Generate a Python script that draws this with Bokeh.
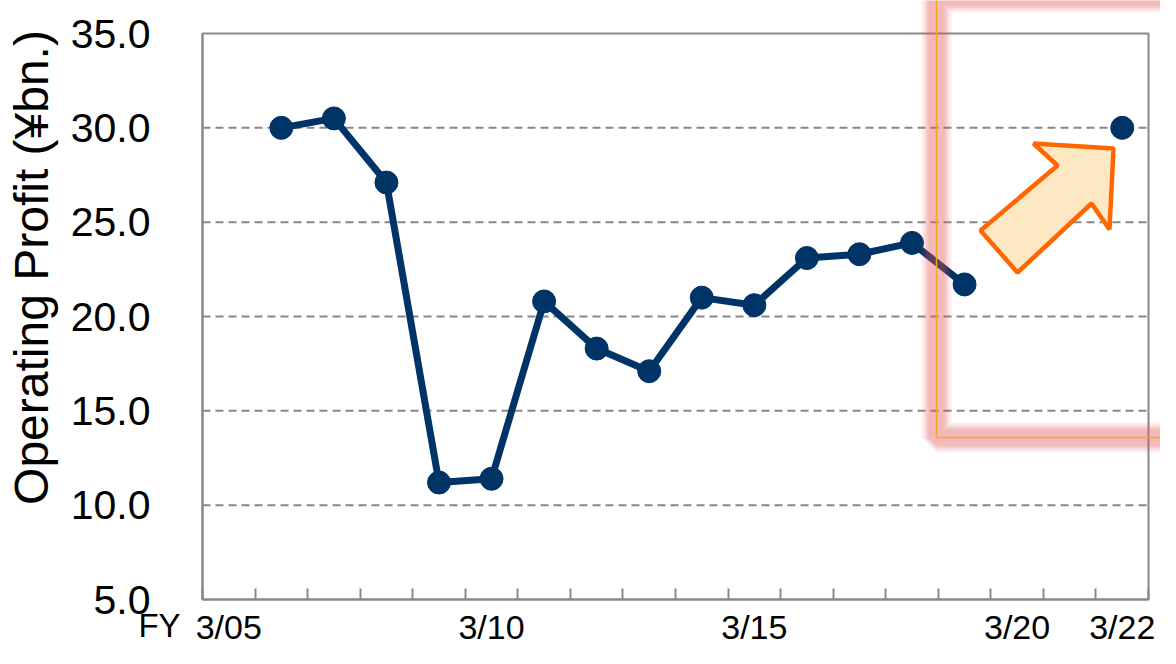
import math
from bokeh.plotting import figure
from bokeh.models import (Range1d, FixedTicker, NumeralTickFormatter, BoxAnnotation,
                          PolyAnnotation, ColumnDataSource)
from bokeh.core.properties import value
from bokeh.embed import file_html
from bokeh.resources import INLINE

# ---- data -------------------------------------------------------------
fiscal_years = ["3/05", "3/06", "3/07", "3/08", "3/09", "3/10", "3/11", "3/12", "3/13",
                "3/14", "3/15", "3/16", "3/17", "3/18", "3/19", "3/20", "3/21", "3/22"]
operating_profit = [math.nan, 30.0, 30.5, 27.1, 11.2, 11.4, 20.8, 18.3, 17.1,
                    21.0, 20.6, 23.1, 23.3, 23.9, 21.7, math.nan, math.nan, 30.0]
labelled_years = ["3/05", "3/10", "3/15", "3/20", "3/22"]
y_ticks = [5, 10, 15, 20, 25, 30, 35]
grid_ticks = [10, 15, 20, 25, 30]
y_title = "Operating Profit (\u00a5bn.)"
x_prefix = "FY"

# ---- layout constants (pixels on the canvas) ---------------------------
W, H = 1160, 648
PX_LEFT, PX_RIGHT, PX_TOP, PX_BOTTOM = 202, 1148, 33, 599
Y_MIN, Y_MAX = 5, 35
n = len(fiscal_years)
sx = (PX_RIGHT - PX_LEFT) / n            # px per category
sy = (PX_BOTTOM - PX_TOP) / (Y_MAX - Y_MIN)  # px per unit
x_range = Range1d(-PX_LEFT / sx, (W - PX_LEFT) / sx)
y_range = Range1d(Y_MIN - (H - PX_BOTTOM) / sy, Y_MAX + PX_TOP / sy)

def dx(px):
    return (px - PX_LEFT) / sx

def dy(py):
    return Y_MAX - (py - PX_TOP) / sy

# decorations (given in pixels, converted to data units)
box = dict(left=dx(936), right=dx(1182), bottom=dy(437), top=dy(-3))
arrow_px = [(980, 230), (1017, 272), (1091, 203), (1109, 229), (1113, 148), (1033, 143), (1057, 165)]

NAVY = "#003366"
GRAY = "#888888"
FONT = "Liberation Sans"

xpos = [i + 0.5 for i in range(n)]
src = ColumnDataSource(dict(x=xpos, y=operating_profit, fy=fiscal_years))

p = figure(width=W, height=H, output_backend="svg", toolbar_location=None,
           x_range=x_range, y_range=y_range, min_border=0,
           min_border_left=0, min_border_right=0, min_border_top=0, min_border_bottom=0)
p.background_fill_color = "white"
p.border_fill_color = "white"
p.outline_line_color = None
p.xgrid.visible = False
p.ygrid.visible = False

# gridlines (dashed) inside the plot area
p.segment(x0=[0] * len(grid_ticks), x1=[n] * len(grid_ticks), y0=grid_ticks, y1=grid_ticks,
          line_color=GRAY, line_width=2, line_dash="8 5")
# plot-area border
p.quad(left=[0], right=[n], bottom=[Y_MIN], top=[Y_MAX], fill_color=None,
       line_color=GRAY, line_width=2)

# x axis (fixed at y = 5)
xa = p.xaxis[0]
xa.fixed_location = Y_MIN
xa.bounds = (0, n)
major = [fiscal_years.index(l) + 0.5 for l in labelled_years]
xa.ticker = FixedTicker(ticks=major, minor_ticks=list(range(n + 1)))
xa.major_label_overrides = {float(m): l for m, l in zip(major, labelled_years)}
xa.major_tick_line_color = None
xa.major_tick_in = 0
xa.major_tick_out = 0
xa.minor_tick_in = 11
xa.minor_tick_out = 0
xa.minor_tick_line_color = GRAY
xa.minor_tick_line_width = 2
xa.axis_line_color = GRAY
xa.axis_line_width = 2
xa.major_label_text_font = FONT
xa.major_label_text_font_size = "34px"
xa.major_label_text_color = "black"
xa.major_label_standoff = 8

# y axis (fixed at x = 0)
ya = p.yaxis[0]
ya.fixed_location = 0
ya.bounds = (Y_MIN, Y_MAX)
ya.ticker = FixedTicker(ticks=y_ticks)
ya.formatter = NumeralTickFormatter(format="0.0")
ya.major_tick_in = 0
ya.major_tick_out = 0
ya.minor_tick_line_color = None
ya.axis_line_color = GRAY
ya.axis_line_width = 2
ya.major_label_text_font = FONT
ya.major_label_text_font_size = "41px"
ya.major_label_text_color = "black"
ya.major_label_standoff = 52

# axis title and FY prefix
p.text(x=[dx(31)], y=[dy(267)], text=[y_title], angle=math.pi / 2,
       text_font=value(FONT), text_font_size="48px", text_color="black",
       text_align="center", text_baseline="middle")
p.text(x=[dx(159)], y=[dy(643)], text=[x_prefix],
       text_font=value(FONT), text_font_size="33px", text_color="black",
       text_align="center", text_baseline="bottom")

# series
p.line("x", "y", source=src, line_color=NAVY, line_width=7)
p.scatter("x", "y", source=src, size=23, fill_color=NAVY, line_color=NAVY)

# arrow
p.add_layout(PolyAnnotation(xs=[dx(a) for a, _ in arrow_px], ys=[dy(b) for _, b in arrow_px],
                            fill_color="#fee8c4", fill_alpha=1,
                            line_color="#ff6600", line_alpha=1, line_width=4.5))

# glow highlight box
for w, a in [(30, 0.10), (25, 0.12), (20, 0.16), (16, 0.10)]:
    p.add_layout(BoxAnnotation(**box, fill_alpha=0, line_color="#dd5555",
                               line_alpha=a, line_width=w))
p.add_layout(BoxAnnotation(**box, fill_alpha=0, line_color="#f5a623",
                           line_alpha=1, line_width=1.5))

open("out.html", "w").write(file_html(p, INLINE))
